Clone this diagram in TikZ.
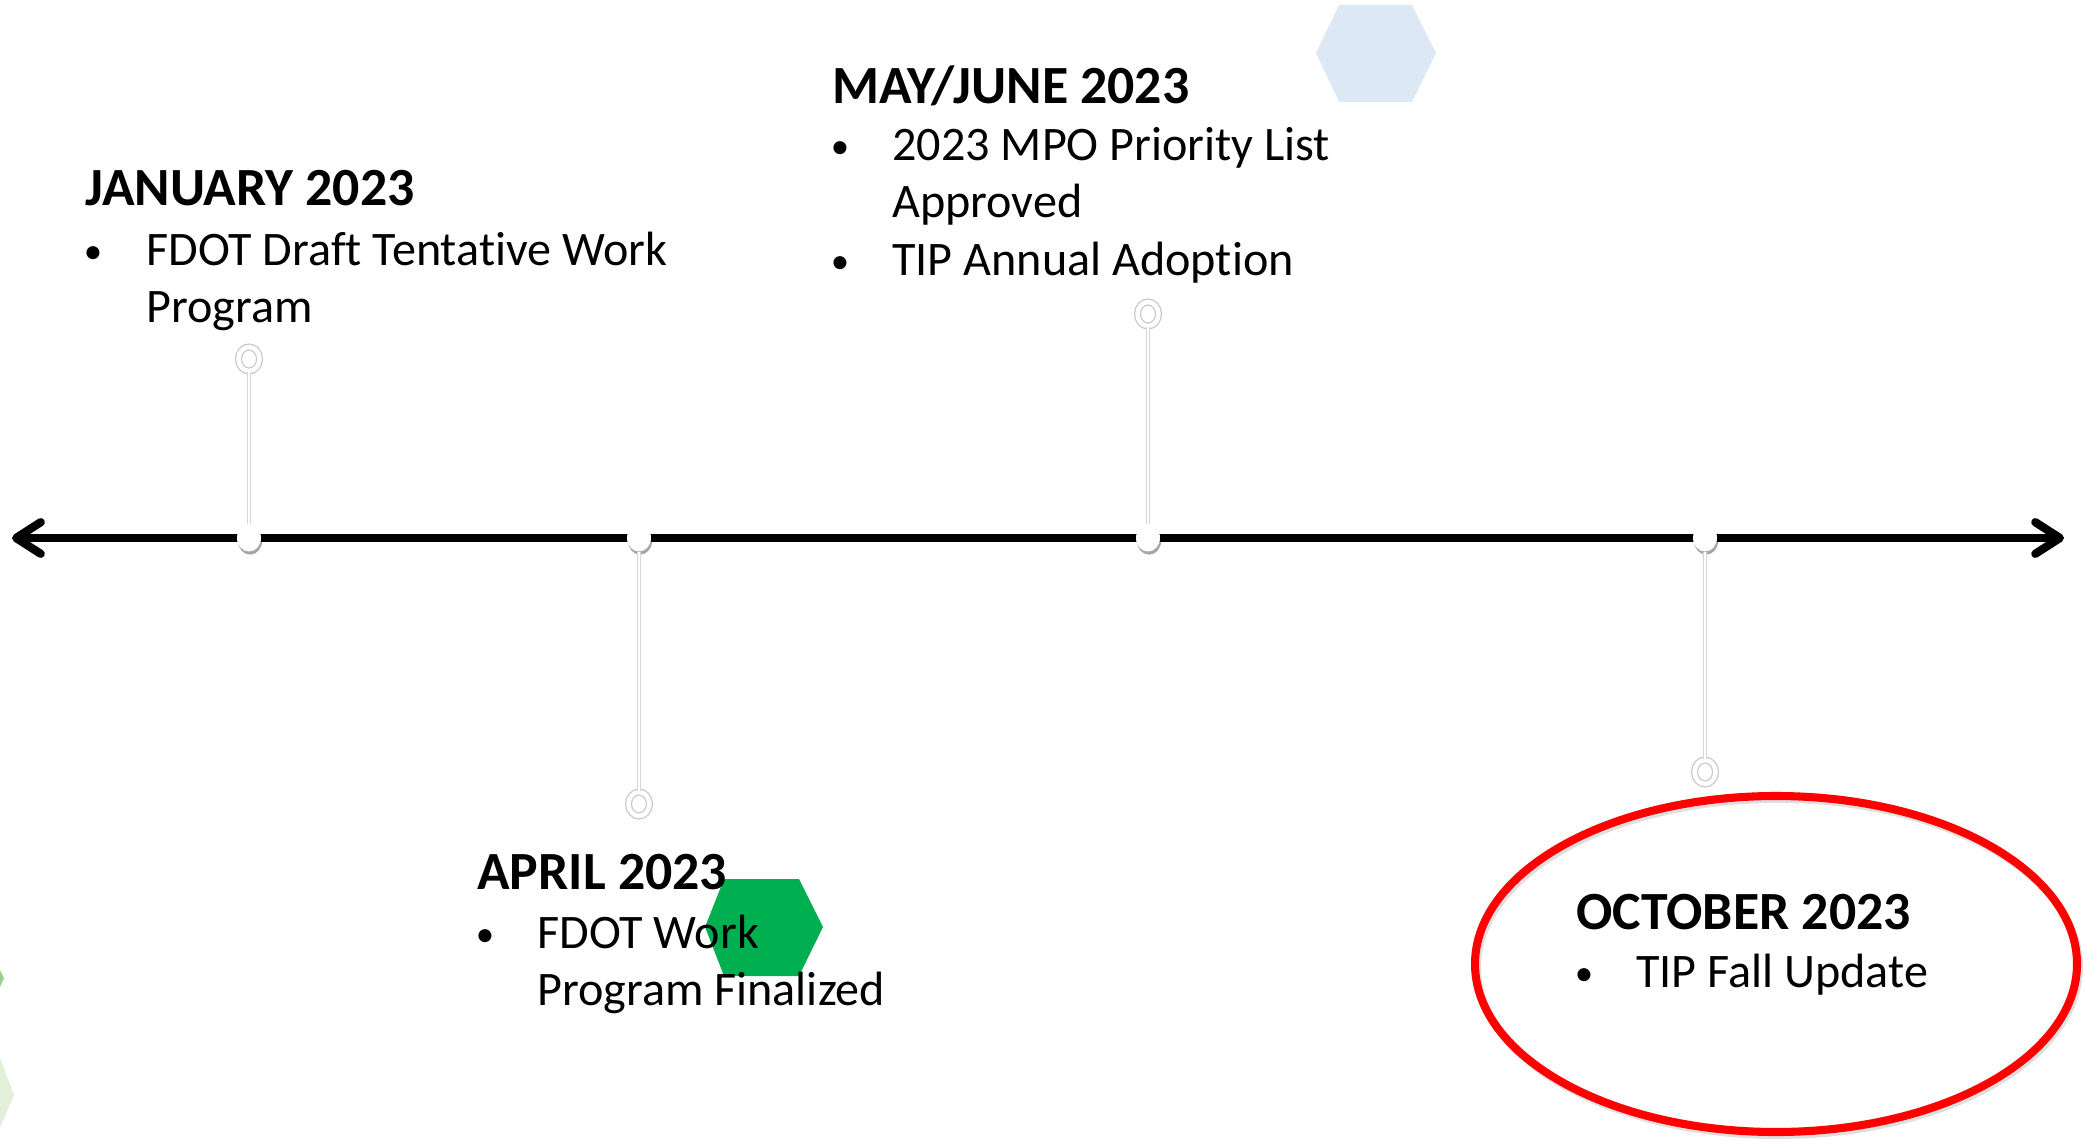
\documentclass[tikz,border=0pt]{standalone}
\usepackage{fontspec}
\setmainfont{Carlito}[Ligatures=NoCommon]
\usetikzlibrary{shapes.geometric,arrows.meta,shadows}
\definecolor{hexgreen}{HTML}{00B050}
\definecolor{hexblue}{HTML}{DDE8F5}
\definecolor{hexlight}{HTML}{E2F0D9}
\definecolor{hexmid}{HTML}{9BD18B}
\definecolor{ringred}{HTML}{FF0000}
\tikzset{
  axisdot/.style={ellipse, fill=white, minimum width=0.48cm, minimum height=0.54cm, inner sep=0pt,
    drop shadow={shadow xshift=0.6pt, shadow yshift=-1.8pt, opacity=0.35, fill=black}},
  ringmark/.style={ellipse, draw=black!22, line width=0.7pt, double=white, double distance=2.6pt,
    minimum width=0.42cm, minimum height=0.48cm, inner sep=0pt},
  stem/.style={draw=black!16, line width=0.6pt, double=white, double distance=1.6pt},
  hdr/.style={anchor=base west, inner sep=0pt, font=\bfseries\fontsize{30.6}{36}\selectfont},
  bodytext/.style={anchor=base west, inner sep=0pt, font=\fontsize{27.4}{32}\selectfont},
  bulletmark/.style={anchor=base, inner sep=0pt, font=\fontsize{21}{26}\selectfont},
}
\begin{document}
\begin{tikzpicture}[x=0.02cm,y=-0.02cm]
\useasboundingbox (0,0) rectangle (2084,1141);
% decorative hexagons
\fill[hexblue] (1316,53) -- (1339,5) -- (1412,5) -- (1436,53) -- (1412,102) -- (1339,102) -- cycle;
\fill[hexgreen] (705,927) -- (724,879) -- (799,879) -- (823,927) -- (799,976) -- (724,976) -- cycle;
\fill[hexlight] (0,1058) -- (14,1095) -- (0,1128) -- cycle;
\fill[hexmid] (0,970) -- (4,978) -- (0,987) -- cycle;
% red ellipse
\draw[black!25, line width=4.5pt, opacity=0.5] (1778,967) ellipse [x radius=301, y radius=168];
\draw[ringred, line width=4.6pt] (1776,964) ellipse [x radius=301, y radius=168];
% axis
\coordinate (L) at (12,538);
\coordinate (R) at (2064,538);
\draw[line width=4.7pt, {Straight Barb[length=14pt,width=18pt,round]}-{Straight Barb[length=14pt,width=18pt,round]}] (L) -- (R);
% markers
\node[axisdot] (dJ) at (249,538) {};
\node[axisdot] (dA) at (639,538) {};
\node[axisdot] (dM) at (1148,538) {};
\node[axisdot] (dO) at (1705,538) {};
\node[ringmark] (rJ) at (249,359) {};
\node[ringmark] (rA) at (639,804) {};
\node[ringmark] (rM) at (1148,314) {};
\node[ringmark] (rO) at (1705,772) {};
\draw[stem] (rJ.south) -- (dJ.north);
\draw[stem] (rM.south) -- (dM.north);
\draw[stem] (dA.south) -- (rA.north);
\draw[stem] (dO.south) -- (rO.north);
% January
\node[hdr] (jH) at (85,206) {JANUARY 2023};
\node[bulletmark] (jB) at (93,264) {•};
\node[bodytext] (jT1) at (146,266) {FDOT Draft Tentative Work};
\node[bodytext] (jT2) at (146,323) {Program};
% May/June
\node[hdr] (mH) at (832,104) {MAY/JUNE 2023};
\node[bulletmark] (mB1) at (840,159) {•};
\node[bodytext] (mT1) at (892,161) {2023 MPO Priority List};
\node[bodytext] (mT2) at (892,218) {Approved};
\node[bulletmark] (mB2) at (840,274) {•};
\node[bodytext] (mT3) at (892,276) {TIP Annual Adoption};
% April
\node[hdr] (aH) at (477,889) {APRIL 2023};
\node[bulletmark] (aB) at (485,946) {•};
\node[bodytext] (aT1) at (537,948) {FDOT Work};
\node[bodytext] (aT2) at (537,1005) {Program Finalized};
% October
\node[hdr] (oH) at (1576,929) {OCTOBER 2023};
\node[bulletmark] (oB) at (1584,985) {•};
\node[bodytext] (oT1) at (1636,987) {TIP Fall Update};
\end{tikzpicture}
\end{document}
